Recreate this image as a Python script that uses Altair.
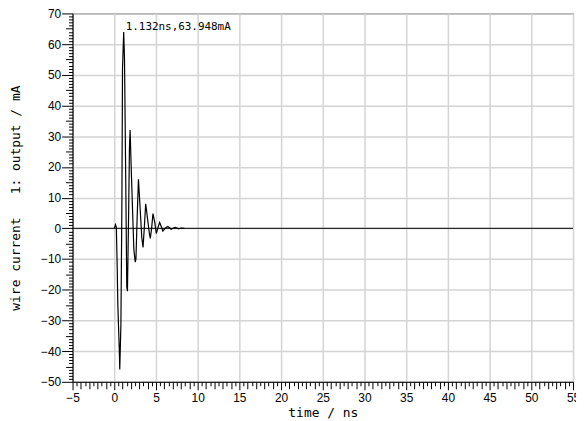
import altair as alt
import pandas as pd

# waveform (time in ns, current in mA)
time_ns = [0.0, 0.15, 0.25, 0.35, 0.43, 0.5, 0.6, 0.66, 0.8, 0.92, 0.99, 1.132, 1.23, 1.38, 1.5, 1.58, 1.72, 1.82, 1.9, 2.05, 2.35, 2.52, 2.6, 2.75, 2.9, 3.05, 3.3, 3.45, 3.6, 3.77, 3.95, 4.2, 4.32, 4.48, 4.64, 4.85, 5.04, 5.25, 5.44, 5.65, 5.83, 6.1, 6.43, 6.62, 6.82, 7.05, 7.3, 7.5, 7.74, 8.0, 8.4]
current_mA = [0.0, 1.2, 0.4, -12, -25, -31, -39, -46, -31, 10, 52, 63.948, 55, 15, -19, -20.5, 4, 26, 32, 18, -7, -11, -10, 4, 16, 9, -3, -6.2, 0, 8, 4, -1.5, -3.3, 0, 4.8, 2, -1.7, 0.3, 1.9, 0.5, -0.9, 0, 0.6, 0.2, -0.3, 0, 0.3, 0.1, -0.2, 0.1, 0.0]

peak_time = [1.132]
peak_value = [63.948]
peak_label = ["1.132ns,63.948mA"]

x_ticks = [v / 2 for v in range(-10, 111)]   # every 0.5 ns
y_ticks = list(range(-50, 71, 1))            # every 1 mA
zero_level = [0]

df = pd.DataFrame({"t": time_ns, "v": current_mA})
peak_df = pd.DataFrame({"t": peak_time, "v": peak_value, "label": peak_label})
zero_df = pd.DataFrame({"v": zero_level})

xscale = alt.Scale(domain=[-5, 55], nice=False, zero=False)
yscale = alt.Scale(domain=[-50, 70], nice=False, zero=False)

x_axis = alt.Axis(
    values=x_ticks, tickCount=1000, orient="bottom",
    tickSize={"condition": [{"test": "datum.value % 5 === 0", "value": 8},
                            {"test": "datum.value % 1 === 0", "value": 7}], "value": 4},
    labelExpr="datum.value % 5 === 0 ? format(datum.value, 'd') : ''",
    labelPadding=3, grid=True,
    gridColor={"condition": {"test": "datum.value % 5 === 0", "value": "#d4d4d4"},
               "value": "rgba(0,0,0,0)"},
    gridWidth=1.5, title="time / ns", titleY=31, titleBaseline="middle",
    labelFlush=False, labelOverlap=False,
)
y_axis = alt.Axis(
    values=y_ticks, tickCount=1000, orient="left",
    tickSize={"condition": [{"test": "datum.value % 10 === 0", "value": 11},
                            {"test": "datum.value % 5 === 0", "value": 7}], "value": 4},
    labelExpr="datum.value % 10 === 0 ? format(datum.value, 'd') : ''",
    labelPadding=1, grid=True,
    gridColor={"condition": {"test": "datum.value % 10 === 0", "value": "#d4d4d4"},
               "value": "rgba(0,0,0,0)"},
    gridWidth=1.5, title="wire current\u00a0\u00a0\u00a01: output / mA",
    titleX=-57, titleBaseline="middle", labelFlush=False, labelOverlap=False,
)

main = alt.Chart(df).mark_line(color="black", strokeWidth=1.2, interpolate="linear").encode(
    x=alt.X("t:Q", scale=xscale, axis=x_axis),
    y=alt.Y("v:Q", scale=yscale, axis=y_axis),
)

zero = alt.Chart(zero_df).mark_rule(color="black", strokeWidth=1).encode(
    y=alt.Y("v:Q", scale=yscale)
)

ann = alt.Chart(peak_df).mark_text(
    align="left", baseline="alphabetic", dx=2, dy=-2,
    font="DejaVu Sans Mono", fontSize=11, color="black"
).encode(
    x=alt.X("t:Q", scale=xscale),
    y=alt.Y("v:Q", scale=yscale),
    text="label:N",
)

chart = alt.layer(main, zero, ann).properties(
    width=504, height=371,
    autosize=alt.AutoSizeParams(type="none"),
    padding={"left": 65, "top": 4, "right": 3, "bottom": 38},
).configure_view(
    stroke="black", strokeWidth=1
).configure_axis(
    labelFont="Liberation Sans", labelFontSize=12, labelColor="black",
    tickColor="black", domainColor="black", domainWidth=1, tickWidth=1,
    titleFont="DejaVu Sans Mono", titleFontSize=13, titleFontWeight="normal",
    titleColor="black",
)

chart.save("out.html", embed_options={"renderer": "svg", "actions": False})
